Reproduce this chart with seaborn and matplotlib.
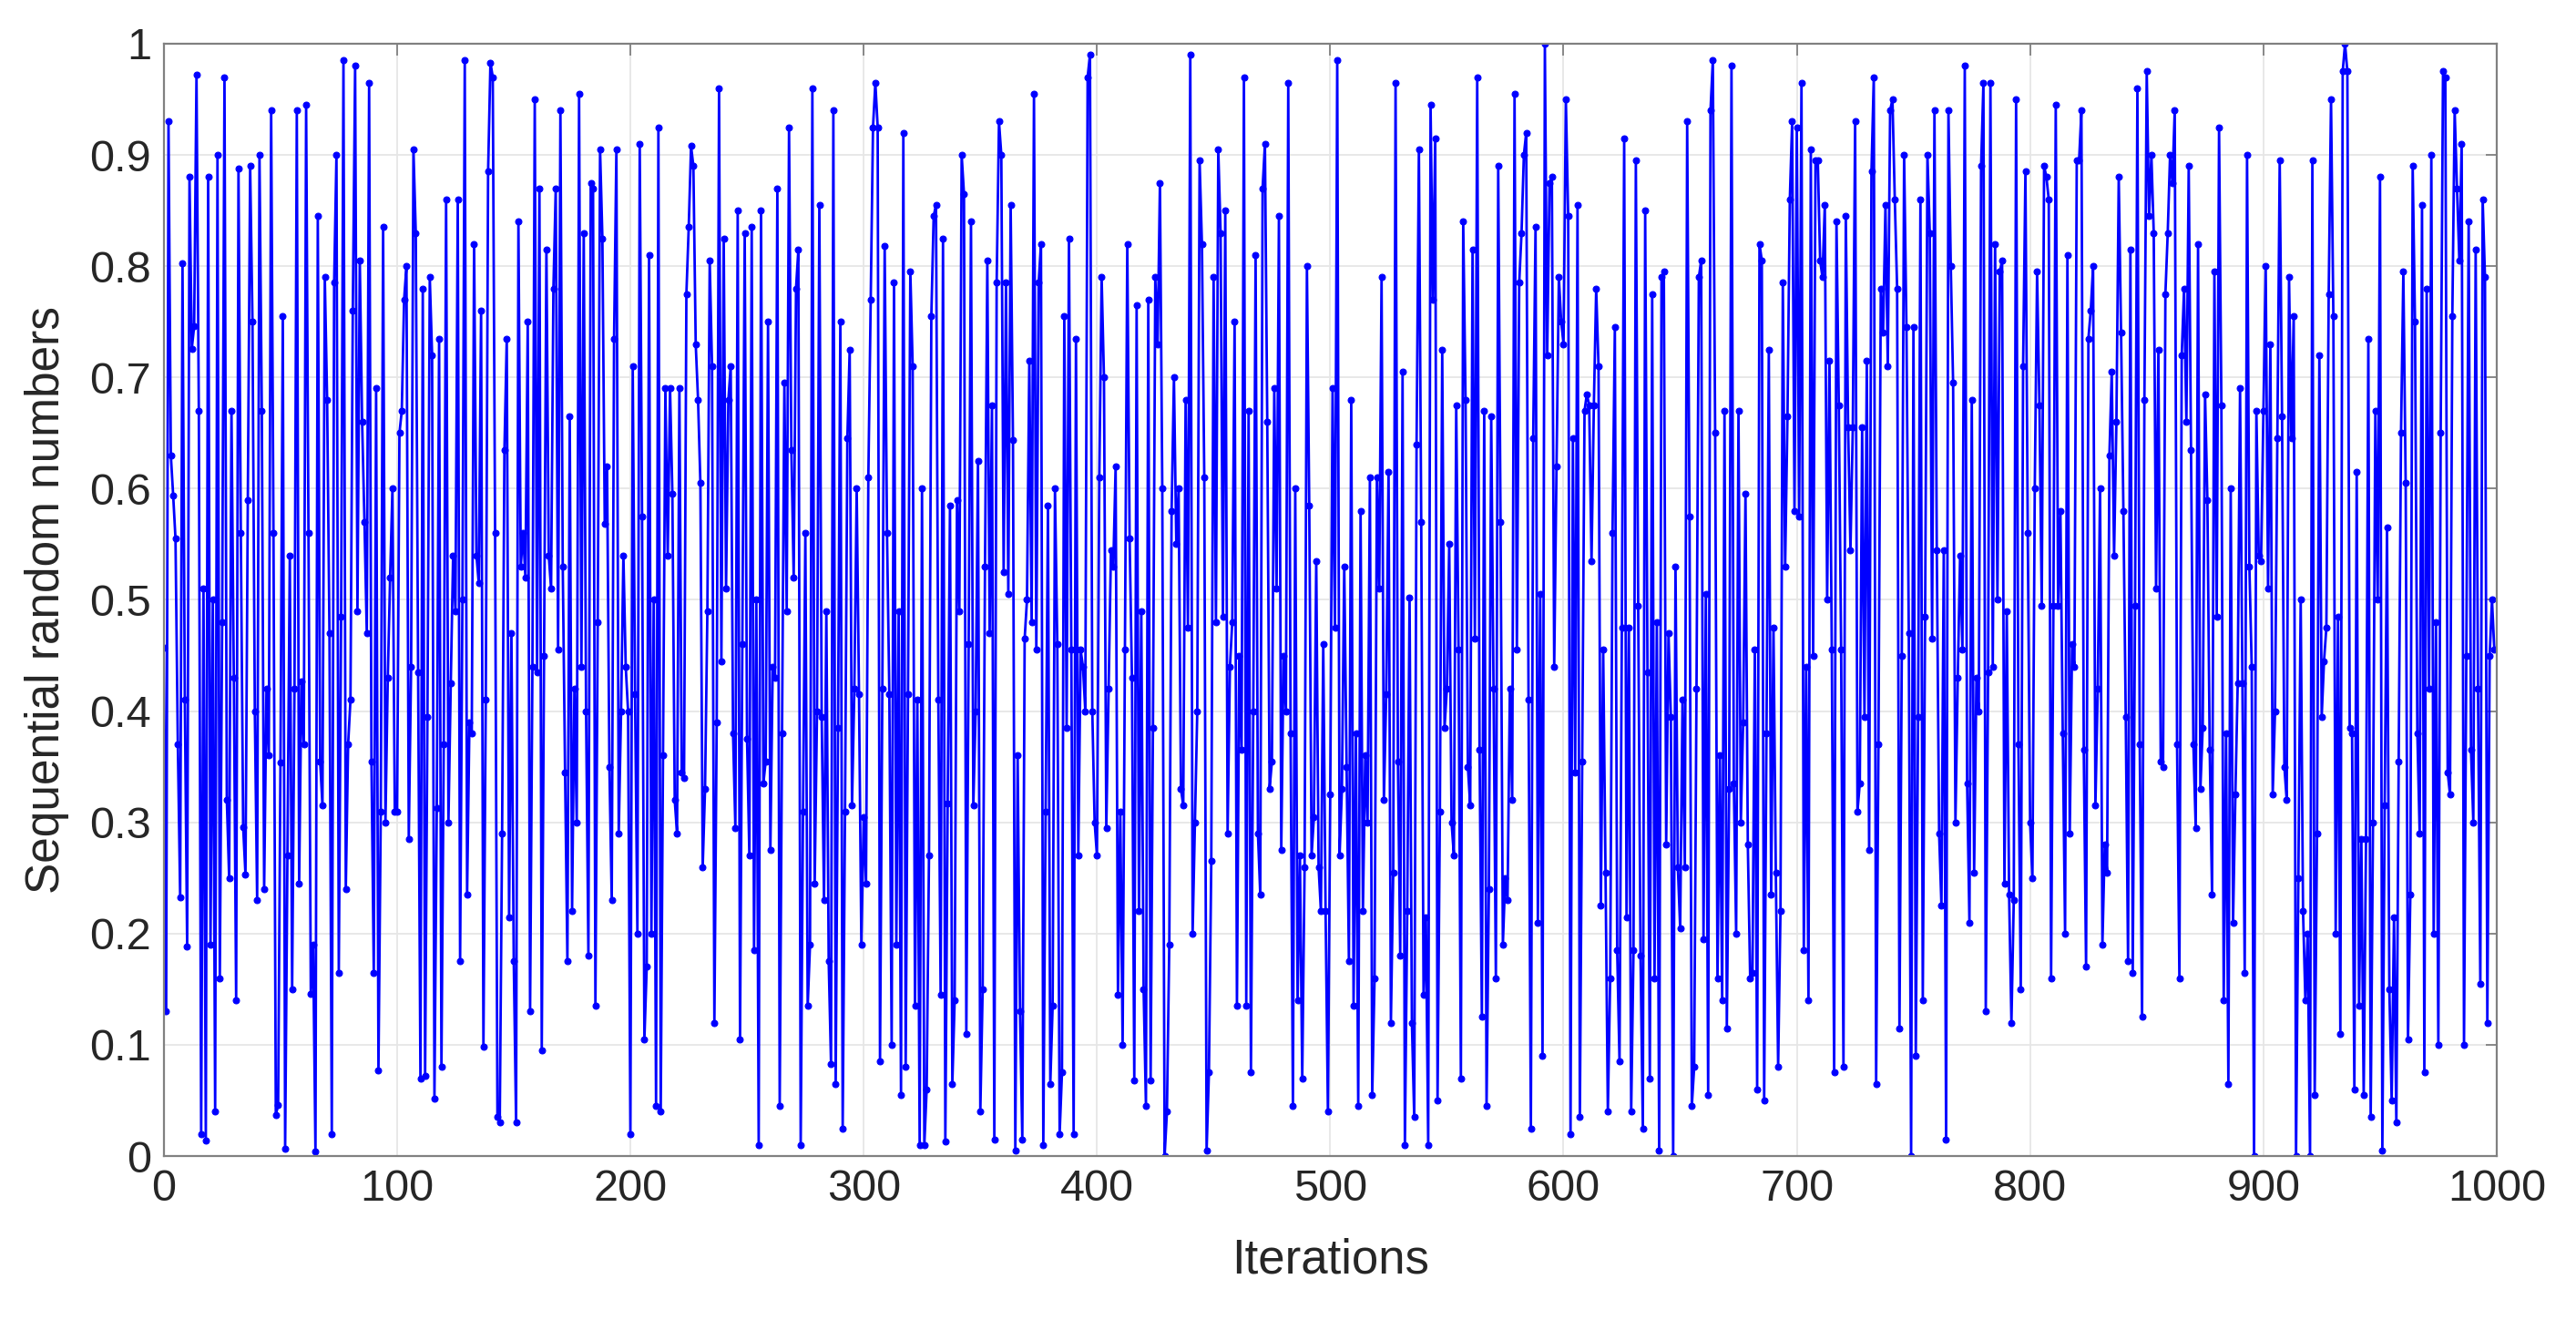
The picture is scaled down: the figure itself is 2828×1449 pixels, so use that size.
import matplotlib
matplotlib.use("Agg")
import matplotlib.pyplot as plt
import seaborn as sns
import numpy as np
import pandas as pd

# values, 100 iterations per block
seg_000 = [0.457, 0.13, 0.93, 0.63, 0.594, 0.555, 0.37, 0.233, 0.803, 0.41,
           0.188, 0.88, 0.726, 0.746, 0.972, 0.67, 0.02, 0.51, 0.014, 0.88,
           0.19, 0.50, 0.04, 0.90, 0.16, 0.48, 0.97, 0.32, 0.25, 0.67,
           0.43, 0.14, 0.888, 0.56, 0.296, 0.253, 0.59, 0.89, 0.75, 0.40,
           0.23, 0.90, 0.67, 0.24, 0.42, 0.36, 0.94, 0.56, 0.037, 0.046,
           0.354, 0.755, 0.0065, 0.27, 0.54, 0.15, 0.42, 0.94, 0.245, 0.427,
           0.37, 0.945, 0.56, 0.146, 0.19, 0.004, 0.845, 0.355, 0.315, 0.79,
           0.68, 0.47, 0.02, 0.785, 0.90, 0.165, 0.485, 0.985, 0.24, 0.37,
           0.41, 0.76, 0.98, 0.49, 0.805, 0.66, 0.57, 0.47, 0.965, 0.355,
           0.165, 0.69, 0.077, 0.31, 0.835, 0.30, 0.43, 0.52, 0.60, 0.31]
seg_100 = [0.31, 0.65, 0.67, 0.77, 0.80, 0.285, 0.44, 0.905, 0.83, 0.435,
           0.07, 0.78, 0.072, 0.395, 0.79, 0.72, 0.052, 0.313, 0.735, 0.08,
           0.37, 0.86, 0.30, 0.425, 0.54, 0.49, 0.86, 0.175, 0.50, 0.985,
           0.235, 0.39, 0.38, 0.82, 0.54, 0.515, 0.76, 0.098, 0.41, 0.885,
           0.983, 0.97, 0.56, 0.035, 0.03, 0.29, 0.635, 0.735, 0.215, 0.47,
           0.175, 0.03, 0.84, 0.53, 0.56, 0.52, 0.75, 0.13, 0.44, 0.95,
           0.435, 0.87, 0.095, 0.45, 0.815, 0.54, 0.51, 0.78, 0.87, 0.455,
           0.94, 0.53, 0.345, 0.175, 0.665, 0.22, 0.42, 0.30, 0.955, 0.44,
           0.83, 0.40, 0.18, 0.875, 0.87, 0.135, 0.48, 0.905, 0.825, 0.568,
           0.62, 0.35, 0.23, 0.735, 0.905, 0.29, 0.40, 0.54, 0.44, 0.40]
seg_200 = [0.02, 0.71, 0.415, 0.2, 0.91, 0.575, 0.105, 0.17, 0.81, 0.2,
           0.5, 0.045, 0.925, 0.04, 0.36, 0.69, 0.54, 0.69, 0.595, 0.32,
           0.29, 0.69, 0.345, 0.34, 0.775, 0.835, 0.908, 0.89, 0.73, 0.68,
           0.605, 0.26, 0.33, 0.49, 0.805, 0.71, 0.12, 0.39, 0.96, 0.445,
           0.825, 0.51, 0.68, 0.71, 0.38, 0.295, 0.85, 0.105, 0.46, 0.83,
           0.375, 0.27, 0.835, 0.185, 0.50, 0.01, 0.85, 0.335, 0.355, 0.75,
           0.275, 0.44, 0.43, 0.87, 0.045, 0.38, 0.695, 0.49, 0.925, 0.635,
           0.52, 0.78, 0.815, 0.01, 0.31, 0.56, 0.135, 0.19, 0.96, 0.245,
           0.40, 0.855, 0.395, 0.23, 0.49, 0.175, 0.083, 0.94, 0.065, 0.385,
           0.75, 0.025, 0.31, 0.645, 0.725, 0.315, 0.42, 0.60, 0.415, 0.19]
seg_300 = [0.305, 0.245, 0.61, 0.77, 0.925, 0.965, 0.925, 0.085, 0.42, 0.818,
           0.56, 0.415, 0.10, 0.785, 0.19, 0.49, 0.055, 0.92, 0.08, 0.415,
           0.795, 0.71, 0.135, 0.41, 0.01, 0.60, 0.01, 0.06, 0.27, 0.755,
           0.845, 0.855, 0.41, 0.145, 0.825, 0.013, 0.317, 0.585, 0.065, 0.14,
           0.59, 0.49, 0.90, 0.865, 0.11, 0.46, 0.84, 0.315, 0.40, 0.625,
           0.04, 0.15, 0.53, 0.805, 0.47, 0.675, 0.015, 0.785, 0.93, 0.90,
           0.525, 0.785, 0.505, 0.855, 0.644, 0.005, 0.36, 0.13, 0.015, 0.465,
           0.50, 0.715, 0.48, 0.955, 0.455, 0.785, 0.82, 0.01, 0.31, 0.585,
           0.065, 0.135, 0.60, 0.46, 0.02, 0.075, 0.755, 0.385, 0.825, 0.455,
           0.02, 0.735, 0.27, 0.455, 0.44, 0.40, 0.97, 0.99, 0.40, 0.30]
seg_400 = [0.27, 0.61, 0.79, 0.70, 0.295, 0.42, 0.545, 0.53, 0.62, 0.145,
           0.31, 0.10, 0.455, 0.82, 0.555, 0.43, 0.068, 0.765, 0.22, 0.49,
           0.15, 0.045, 0.77, 0.068, 0.385, 0.79, 0.73, 0.875, 0.60, 0.0,
           0.04, 0.19, 0.58, 0.70, 0.55, 0.60, 0.33, 0.315, 0.68, 0.475,
           0.99, 0.2, 0.3, 0.4, 0.895, 0.82, 0.61, 0.005, 0.075, 0.265,
           0.79, 0.48, 0.905, 0.83, 0.485, 0.85, 0.29, 0.44, 0.48, 0.75,
           0.135, 0.45, 0.365, 0.97, 0.135, 0.67, 0.075, 0.40, 0.81, 0.29,
           0.235, 0.87, 0.91, 0.66, 0.33, 0.355, 0.69, 0.51, 0.845, 0.275,
           0.45, 0.40, 0.965, 0.38, 0.045, 0.60, 0.14, 0.27, 0.07, 0.26,
           0.80, 0.585, 0.27, 0.305, 0.535, 0.26, 0.22, 0.46, 0.22, 0.04]
seg_500 = [0.325, 0.69, 0.475, 0.985, 0.27, 0.33, 0.53, 0.35, 0.175, 0.68,
           0.135, 0.38, 0.045, 0.58, 0.22, 0.36, 0.30, 0.61, 0.055, 0.16,
           0.61, 0.51, 0.79, 0.32, 0.415, 0.615, 0.12, 0.255, 0.965, 0.355,
           0.18, 0.705, 0.01, 0.22, 0.502, 0.12, 0.035, 0.64, 0.905, 0.57,
           0.145, 0.215, 0.01, 0.945, 0.77, 0.915, 0.05, 0.31, 0.725, 0.385,
           0.42, 0.55, 0.30, 0.27, 0.675, 0.455, 0.07, 0.84, 0.68, 0.35,
           0.315, 0.815, 0.465, 0.97, 0.365, 0.125, 0.67, 0.045, 0.24, 0.665,
           0.42, 0.16, 0.89, 0.57, 0.19, 0.25, 0.23, 0.42, 0.32, 0.955,
           0.455, 0.785, 0.83, 0.90, 0.92, 0.41, 0.025, 0.645, 0.835, 0.21,
           0.505, 0.09, 1.0, 0.72, 0.875, 0.88, 0.44, 0.62, 0.79, 0.75]
seg_600 = [0.73, 0.95, 0.845, 0.02, 0.645, 0.345, 0.855, 0.035, 0.355, 0.67,
           0.685, 0.675, 0.535, 0.675, 0.78, 0.71, 0.225, 0.455, 0.255, 0.04,
           0.16, 0.56, 0.745, 0.185, 0.085, 0.475, 0.915, 0.215, 0.475, 0.04,
           0.185, 0.895, 0.495, 0.18, 0.025, 0.85, 0.435, 0.07, 0.775, 0.16,
           0.48, 0.005, 0.79, 0.795, 0.28, 0.47, 0.395, 0.0, 0.53, 0.26,
           0.205, 0.41, 0.26, 0.93, 0.575, 0.045, 0.08, 0.42, 0.79, 0.805,
           0.195, 0.505, 0.055, 0.94, 0.985, 0.65, 0.16, 0.36, 0.14, 0.67,
           0.115, 0.33, 0.98, 0.335, 0.20, 0.67, 0.30, 0.39, 0.595, 0.28,
           0.16, 0.165, 0.455, 0.06, 0.82, 0.805, 0.05, 0.38, 0.725, 0.235,
           0.475, 0.255, 0.08, 0.22, 0.785, 0.53, 0.665, 0.86, 0.93, 0.58]
seg_700 = [0.925, 0.575, 0.965, 0.185, 0.44, 0.14, 0.905, 0.45, 0.895, 0.895,
           0.805, 0.79, 0.855, 0.50, 0.715, 0.455, 0.075, 0.84, 0.675, 0.455,
           0.08, 0.845, 0.655, 0.545, 0.655, 0.93, 0.31, 0.335, 0.655, 0.395,
           0.715, 0.275, 0.885, 0.97, 0.065, 0.37, 0.78, 0.74, 0.855, 0.71,
           0.94, 0.95, 0.86, 0.78, 0.115, 0.45, 0.90, 0.745, 0.47, 0.0,
           0.745, 0.09, 0.395, 0.86, 0.14, 0.485, 0.90, 0.83, 0.465, 0.94,
           0.545, 0.29, 0.225, 0.545, 0.015, 0.94, 0.80, 0.695, 0.30, 0.43,
           0.54, 0.455, 0.98, 0.335, 0.21, 0.68, 0.255, 0.43, 0.40, 0.89,
           0.965, 0.13, 0.435, 0.965, 0.44, 0.82, 0.50, 0.795, 0.805, 0.245,
           0.49, 0.235, 0.12, 0.23, 0.95, 0.37, 0.15, 0.71, 0.885, 0.56]
seg_800 = [0.30, 0.25, 0.60, 0.795, 0.675, 0.495, 0.89, 0.88, 0.86, 0.16,
           0.495, 0.945, 0.495, 0.58, 0.38, 0.20, 0.81, 0.29, 0.46, 0.44,
           0.895, 0.895, 0.94, 0.365, 0.17, 0.735, 0.76, 0.80, 0.315, 0.42,
           0.60, 0.19, 0.28, 0.255, 0.63, 0.705, 0.54, 0.66, 0.88, 0.74,
           0.58, 0.395, 0.175, 0.815, 0.165, 0.495, 0.96, 0.37, 0.125, 0.68,
           0.975, 0.845, 0.90, 0.83, 0.51, 0.725, 0.355, 0.35, 0.775, 0.83,
           0.90, 0.875, 0.94, 0.37, 0.16, 0.72, 0.78, 0.66, 0.89, 0.635,
           0.37, 0.295, 0.82, 0.33, 0.385, 0.685, 0.59, 0.365, 0.235, 0.795,
           0.485, 0.925, 0.675, 0.14, 0.38, 0.065, 0.60, 0.21, 0.325, 0.425,
           0.69, 0.425, 0.165, 0.90, 0.53, 0.44, 0.0, 0.67, 0.54, 0.535]
seg_900 = [0.67, 0.80, 0.51, 0.73, 0.325, 0.40, 0.645, 0.895, 0.665, 0.35,
           0.32, 0.79, 0.645, 0.755, 0.0, 0.25, 0.50, 0.22, 0.14, 0.20,
           0.0, 0.895, 0.055, 0.29, 0.72, 0.395, 0.445, 0.475, 0.775, 0.95,
           0.755, 0.20, 0.485, 0.11, 0.975, 1.0, 0.975, 0.385, 0.38, 0.06,
           0.615, 0.135, 0.285, 0.055, 0.285, 0.735, 0.035, 0.30, 0.67, 0.50,
           0.88, 0.005, 0.315, 0.565, 0.15, 0.05, 0.215, 0.03, 0.355, 0.65,
           0.795, 0.605, 0.105, 0.235, 0.89, 0.75, 0.38, 0.29, 0.855, 0.075,
           0.78, 0.42, 0.90, 0.20, 0.48, 0.10, 0.65, 0.975, 0.97, 0.345,
           0.325, 0.755, 0.94, 0.87, 0.805, 0.91, 0.10, 0.45, 0.84, 0.365,
           0.30, 0.815, 0.42, 0.155, 0.86, 0.79, 0.12, 0.45, 0.50, 0.455]

values = (seg_000 + seg_100 + seg_200 + seg_300 + seg_400
          + seg_500 + seg_600 + seg_700 + seg_800 + seg_900)
iterations = np.arange(len(values))

x_ticks = list(range(0, 1001, 100))
y_ticks = [0, 0.1, 0.2, 0.3, 0.4, 0.5, 0.6, 0.7, 0.8, 0.9, 1]
y_tick_labels = ["0", "0.1", "0.2", "0.3", "0.4", "0.5", "0.6", "0.7", "0.8", "0.9", "1"]

df = pd.DataFrame({"Iterations": iterations, "value": values})

sns.set_style("white")
plt.rcParams["font.family"] = ["Liberation Sans", "DejaVu Sans"]

fig = plt.figure(figsize=(28.28, 14.49), dpi=100)
ax = fig.add_axes([0.0636, 0.1242, 0.9056, 0.8427])

sns.lineplot(data=df, x="Iterations", y="value", ax=ax, color="#0000ff",
             linewidth=2.0, marker="o", markersize=5,
             markeredgecolor="#0000ff", markerfacecolor="#0000ff")

ax.set_xlim(0, 1000)
ax.set_ylim(0, 1)
ax.set_xticks(x_ticks)
ax.set_yticks(y_ticks)
ax.set_yticklabels(y_tick_labels)
ax.grid(True, color="#e6e6e6", linewidth=1.3)
ax.set_axisbelow(True)

for s in ax.spines.values():
    s.set_visible(True)
    s.set_color("#808080")
    s.set_linewidth(1.6)

ax.tick_params(direction="in", length=9, width=1.3, color="#808080",
               top=True, right=True, labelsize=35, labelcolor="#262626", pad=10)

ax.set_xlabel("Iterations", fontsize=38, color="#262626", labelpad=22)
ax.set_ylabel("Sequential random numbers", fontsize=37, color="#262626", labelpad=16)

fig.savefig("out.png", dpi=100)
